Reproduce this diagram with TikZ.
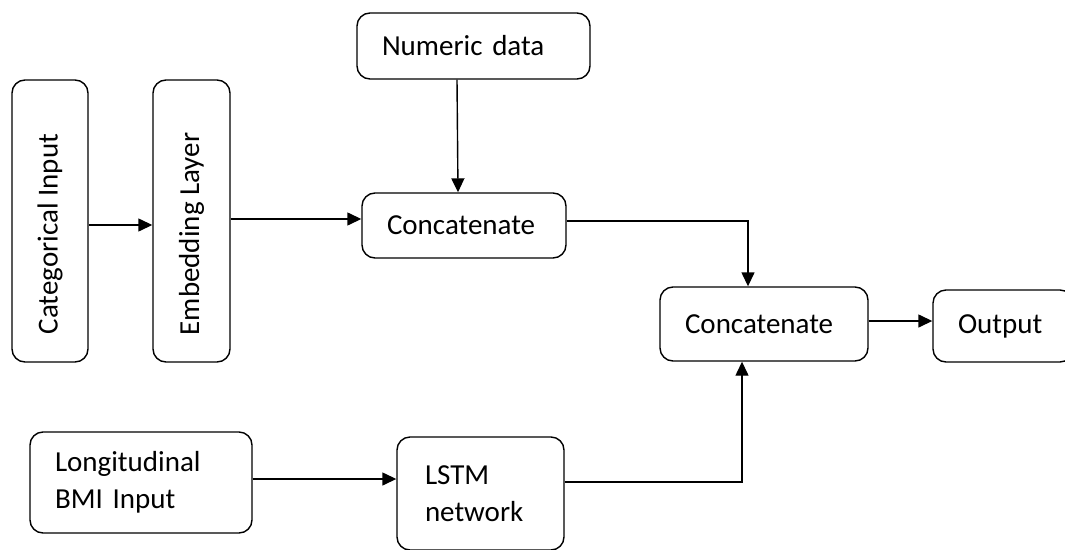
\documentclass[tikz,border=0pt]{standalone}
\usepackage{fontspec}
\setmainfont{Carlito}
\usetikzlibrary{arrows.meta, positioning, calc}

\begin{document}
\begin{tikzpicture}[
    x=1pt, y=-1pt,
    every node/.style={font=\fontsize{29}{37}\selectfont},
    blk/.style={draw, rounded corners=13pt, line width=1.4pt, align=left, inner ysep=0pt},
    arr/.style={-{Triangle[length=14pt, width=13pt]}, line width=1.4pt}
]
    \useasboundingbox (0,0) rectangle (1065,549);

    % input branches
    \node[blk, align=center, inner xsep=0pt, minimum width=76pt, minimum height=282pt] (cat) at (50,221) {\rotatebox{90}{Categorical Input\hspace{26pt}}};
    \node[blk, align=center, inner xsep=0pt, minimum width=77pt, minimum height=282pt] (emb) at (191.5,221) {\rotatebox{90}{Embedding Layer\hspace{26pt}}};
    \node[blk, inner xsep=25pt, text width=183pt, minimum height=66pt] (num) at (473.5,46) {Numeric data};
    \node[blk, inner xsep=25pt, text width=172pt, minimum height=101pt] (lng) at (141,482.5) {Longitudinal\\BMI Input};
    \node[blk, inner xsep=28pt, text width=111pt, minimum height=113pt] (lstm) at (480.5,493.5) {LSTM\\network};

    % merging
    \node[blk, inner xsep=25pt, text width=154pt, minimum height=65pt] (cc1) at (464,225.5) {Concatenate};
    \node[blk, inner xsep=25pt, text width=158pt, minimum height=74pt] (cc2) at (764,324) {Concatenate};
    \node[blk, inner xsep=25pt, text width=90pt, minimum height=72pt] (out) at (1003,326) {Output};

    \draw[arr] ([yshift=-4pt]cat.east) -- ([yshift=-4pt]cat.east -| emb.west);
    \draw[arr] ([yshift=2pt]emb.east) -- ([yshift=2pt]emb.east -| cc1.west);
    \draw[arr] ([xshift=-16.5pt]num.south) -- ([xshift=-6pt]cc1.north);
    \draw[arr] ([yshift=4.5pt]cc1.east) -| ([xshift=-16pt]cc2.north);
    \draw[arr] ([yshift=3pt]cc2.east) -- ([yshift=3pt]cc2.east -| out.west);
    \draw[arr] ([yshift=3.5pt]lng.east) -- ([yshift=3.5pt]lng.east -| lstm.west);
    \draw[arr] ([yshift=11.5pt]lstm.east) -| ([xshift=-22pt]cc2.south);
\end{tikzpicture}
\end{document}
